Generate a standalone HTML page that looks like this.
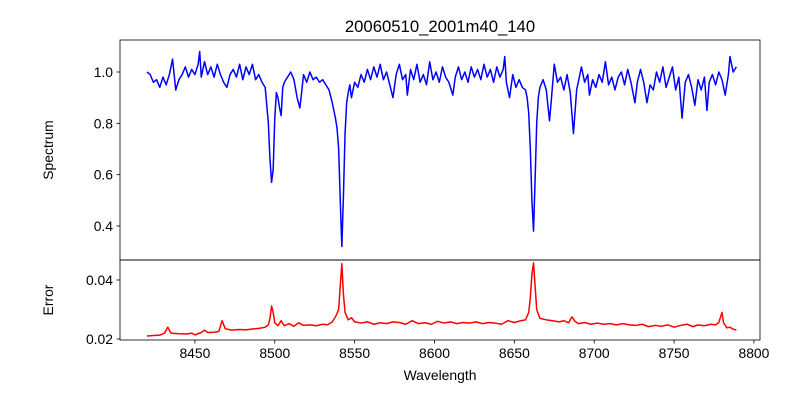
<!DOCTYPE html>
<html><head><meta charset="utf-8"><style>
body{margin:0;background:#fff}
svg{display:block;font-family:"Liberation Sans","DejaVu Sans",sans-serif}
</style></head><body>
<svg id="chart" width="800" height="400" viewBox="0 0 800 400" xmlns="http://www.w3.org/2000/svg">
<rect width="800" height="400" fill="#fff"/>
<text x="440" y="32" font-size="16.7" text-anchor="middle">20060510_2001m40_140</text>
<g id="top"></g>
<g id="bot"></g>
<text transform="translate(53,150) rotate(-90)" font-size="13.9" text-anchor="middle">Spectrum</text>
<text transform="translate(53,300) rotate(-90)" font-size="13.9" text-anchor="middle">Error</text>
<text x="440" y="380" font-size="13.9" text-anchor="middle">Wavelength</text>
</svg>
<script>
const fluxWave=[8420,8422,8424,8426,8428,8430,8432,8434,8436,8438,8440,8442,8444,8446,8448,8450,8452,8453,8454,8456,8458,8460,8462,8464,8466,8468,8470,8472,8474,8476,8478,8480,8482,8484,8486,8488,8490,8492,8494,8496,8497,8498,8499,8500,8501,8502,8503,8504,8505,8506,8508,8510,8512,8514,8515.7,8517,8518,8520,8522,8524,8526,8528,8530,8532,8534,8536,8537,8538,8539,8540,8541,8542,8543,8544,8545,8546,8547,8548,8550,8552,8554,8556,8558,8560,8562,8564,8566,8568,8570,8572,8574,8576,8578,8580,8582,8583,8585,8587,8589,8591,8593,8595,8597,8599,8601,8603,8605,8607,8609,8611.5,8613,8615,8617,8619,8621,8623,8625,8627,8629,8631,8633,8635,8637,8639,8641,8643,8644,8645,8647,8649,8651,8653,8655,8657,8658,8659,8660,8661,8662,8663,8664,8665,8666,8668,8670,8672,8673,8675,8677,8679,8681,8683,8685,8687,8689,8690,8692,8694,8696,8697,8699,8701,8703,8705,8707,8709,8711,8713,8715,8717,8719,8721,8723,8725.5,8727,8729,8731,8733,8735,8737,8739,8741,8743,8745,8747,8749,8751,8753,8755,8757,8759,8761,8763,8765,8767,8769,8770.6,8772,8774,8776,8778,8780,8782,8784,8785,8787,8789];
const fluxValues=[1.00,0.99,0.96,0.97,0.94,0.98,0.95,0.99,1.05,0.93,0.97,0.99,1.02,0.98,1.01,0.99,1.03,1.08,0.98,1.04,0.99,1.02,0.98,1.03,0.99,0.96,0.94,0.99,1.01,0.98,1.03,0.97,1.02,0.99,1.03,0.97,0.99,0.96,0.94,0.80,0.66,0.57,0.62,0.82,0.92,0.90,0.86,0.83,0.94,0.96,0.98,1.00,0.97,0.90,0.86,0.93,0.99,0.96,1.00,0.97,0.98,0.96,0.97,0.95,0.93,0.88,0.85,0.82,0.78,0.70,0.50,0.32,0.52,0.76,0.88,0.92,0.95,0.90,0.96,0.94,0.99,0.96,1.01,0.97,1.02,0.98,1.03,0.97,1.00,0.95,0.90,0.99,1.03,0.97,0.99,0.91,1.01,0.97,1.03,0.96,0.99,0.95,1.04,0.97,1.00,0.96,1.02,0.98,0.96,0.91,0.98,1.02,0.97,1.00,0.96,1.02,0.98,1.01,0.97,1.03,0.98,1.01,0.96,1.02,0.98,1.01,1.06,0.96,0.90,0.99,0.94,0.97,0.94,0.93,0.90,0.84,0.70,0.50,0.38,0.58,0.80,0.90,0.94,0.97,0.93,0.81,0.88,1.03,0.96,0.98,0.93,0.99,0.92,0.76,0.93,0.96,1.02,0.96,0.99,0.91,0.97,0.94,0.99,0.96,1.04,0.95,0.98,0.93,0.98,1.00,0.95,1.01,0.96,0.88,0.96,1.01,0.96,0.88,0.95,0.93,1.00,0.96,1.02,0.94,0.98,1.02,0.93,0.98,0.82,0.96,0.99,0.94,0.87,0.97,0.93,0.98,0.85,0.96,0.99,0.95,1.00,0.97,0.91,0.99,1.06,1.00,1.02];
const errWave=[8420,8424,8428,8431,8433,8435,8440,8445,8448,8450,8454,8456,8458,8462,8465,8467,8469,8473,8478,8482,8486,8490,8494,8496,8497,8498,8499,8500,8502,8504,8506,8509,8512,8515,8518,8522,8526,8530,8533,8536,8538,8540,8541,8542,8543,8544,8546,8548,8550,8554,8558,8562,8566,8570,8574,8578,8582,8586,8590,8594,8598,8602,8606,8610,8614,8618,8622,8626,8630,8634,8638,8642,8646,8650,8654,8657,8659,8660,8661,8662,8663,8664,8666,8670,8674,8678,8681,8684,8686,8688,8690,8694,8698,8702,8706,8710,8714,8718,8722,8726,8730,8734,8738,8742,8746,8750,8754,8758,8762,8765,8769,8773,8776,8778,8780,8781,8783,8785,8787,8789];
const errValues=[.0210,.0212,.0213,.0220,.0240,.0220,.0218,.0217,.0220,.0214,.0222,.0230,.0222,.0223,.0226,.0262,.0235,.0230,.0232,.0231,.0234,.0236,.0240,.0248,.0270,.0312,.0290,.0255,.0245,.0262,.0245,.0252,.0243,.0255,.0246,.0248,.0245,.0250,.0248,.0258,.0275,.0300,.0380,.0455,.0350,.0290,.0265,.0272,.0258,.0254,.0258,.0250,.0255,.0252,.0258,.0256,.0250,.0262,.0252,.0255,.0250,.0260,.0254,.0258,.0252,.0256,.0254,.0258,.0252,.0256,.0254,.0250,.0262,.0256,.0262,.0265,.0290,.0340,.0420,.0458,.0380,.0300,.0270,.0265,.0262,.0258,.0262,.0255,.0275,.0260,.0252,.0256,.0250,.0254,.0250,.0252,.0248,.0252,.0248,.0246,.0250,.0242,.0246,.0243,.0248,.0240,.0246,.0250,.0242,.0248,.0245,.0250,.0248,.0256,.0290,.0255,.0238,.0240,.0233,.0231];
const xTicks=[8450,8500,8550,8600,8650,8700,8750,8800];
const topTicks=[0.4,0.6,0.8,1.0];
const botTicks=[0.02,0.04];

const NS='http://www.w3.org/2000/svg';
const L=120,R=760,T1=40,B1=260,T2=260,B2=340;
const xMin=8403.1,xMax=8803.8;
const y1Min=0.2675,y1Max=1.1247,y2Min=0.01966,y2Max=0.04678;
const xs=v=>L+(v-xMin)/(xMax-xMin)*(R-L);
const y1=v=>B1-(v-y1Min)/(y1Max-y1Min)*(B1-T1);
const y2=v=>B2-(v-y2Min)/(y2Max-y2Min)*(B2-T2);
function mk(tag,attrs,parent){const e=document.createElementNS(NS,tag);for(const k in attrs)e.setAttribute(k,attrs[k]);parent.appendChild(e);return e;}
const gTop=document.getElementById('top'),gBot=document.getElementById('bot');
function pathOf(wa,va,yf){const n=Math.min(wa.length,va.length);let s='';for(let i=0;i<n;i++){s+=(i?'L':'M')+xs(wa[i]).toFixed(2)+','+yf(va[i]).toFixed(2);}return s;}

const p1=mk('path',{d:pathOf(fluxWave,fluxValues,y1),fill:'none',stroke:'#0000ff','stroke-width':1.5,'stroke-linejoin':'round'},gTop);


const p2=mk('path',{d:pathOf(errWave,errValues,y2),fill:'none',stroke:'#ff0000','stroke-width':1.5,'stroke-linejoin':'round'},gBot);



topTicks.forEach(t=>{const y=y1(t);
 const tl=mk('line',{x1:L-3.5,x2:L,y1:y,y2:y,stroke:'#000','stroke-width':0.8},gTop);
 
 
 const tx=mk('text',{x:L-7,y:y+5,'font-size':13.9,'text-anchor':'end'},gTop);tx.textContent=t.toFixed(1);
 
 });
botTicks.forEach(t=>{const y=y2(t);
 const tl=mk('line',{x1:L-3.5,x2:L,y1:y,y2:y,stroke:'#000','stroke-width':0.8},gBot);
 
 
 const tx=mk('text',{x:L-7,y:y+5,'font-size':13.9,'text-anchor':'end'},gBot);tx.textContent=t.toFixed(2);
 
 });
xTicks.forEach(t=>{const x=xs(t);
 const tl=mk('line',{x1:x,x2:x,y1:B2,y2:B2+3.5,stroke:'#000','stroke-width':0.8},gBot);
 
 
 const tx=mk('text',{x:x,y:B2+18,'font-size':13.9,'text-anchor':'middle'},gBot);tx.textContent=t;
 
 });
const f1=mk('rect',{x:L,y:T1,width:R-L,height:B1-T1,fill:'none',stroke:'#000','stroke-width':0.8},gTop);


const f2=mk('rect',{x:L,y:T2,width:R-L,height:B2-T2,fill:'none',stroke:'#000','stroke-width':0.8},gBot);


</script>
</body></html>
